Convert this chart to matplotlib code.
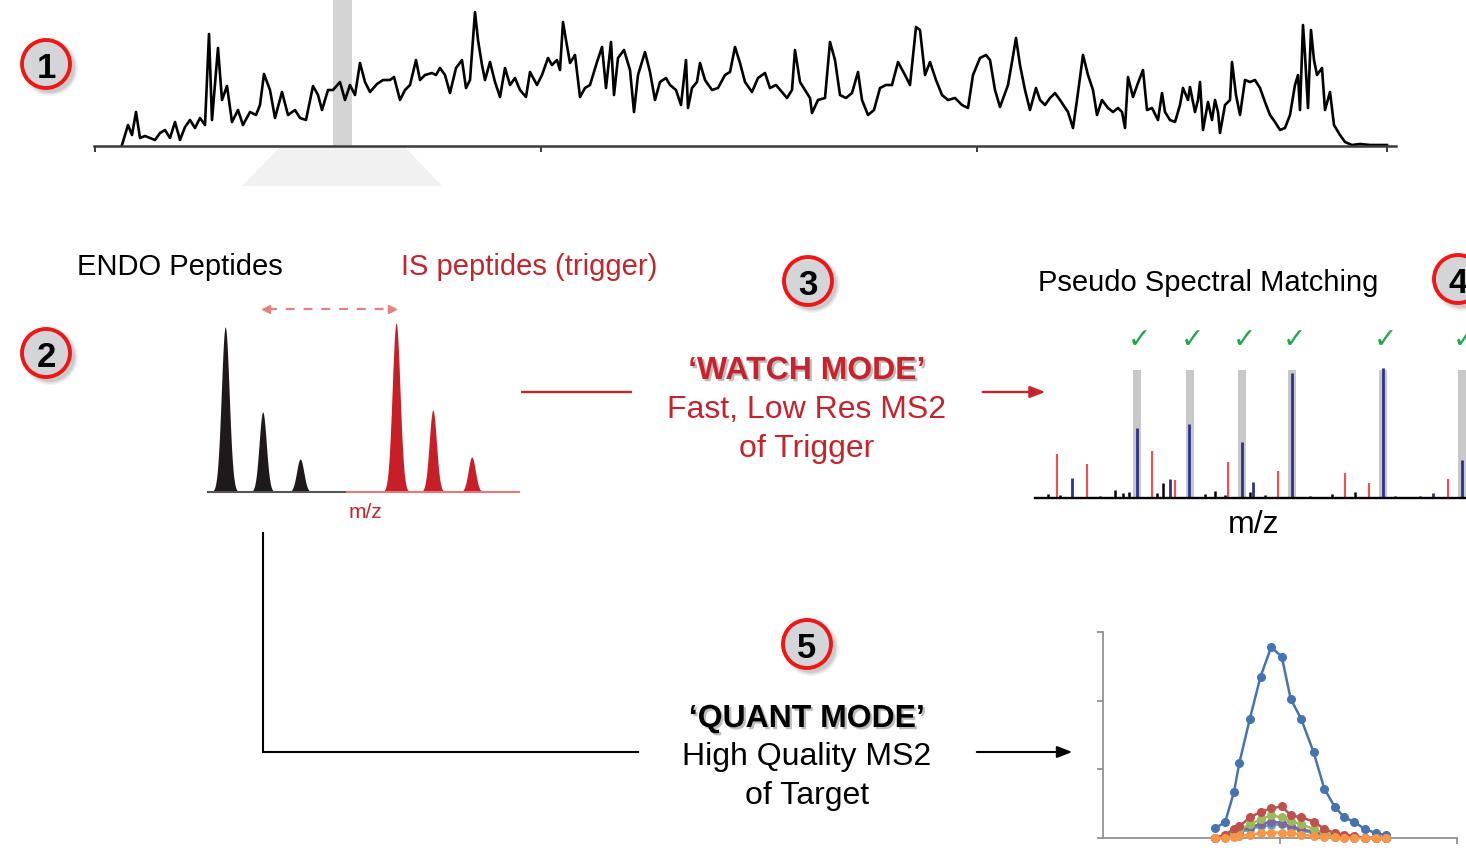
import matplotlib
matplotlib.use('Agg')
import matplotlib.pyplot as plt
import numpy as np
from matplotlib.patches import Circle, Polygon
import matplotlib.patheffects as pe

plt.rcParams['font.family'] = ['Liberation Sans', 'DejaVu Sans']

W, H = 1466, 852

# ---------------- data ----------------
# (1) base-peak chromatogram: scan number vs intensity
chrom_scan = [122,128,132,136,140,145,150,155,160,165,170,175,180,185,190,195,200,205,209,212,
              218,222,227,232,238,243,250,256,260,264,270,275,282,288,295,300,306,313,318,322,
              328,333,340,345,350,355,360,365,370,377,383,390,394,400,405,410,416,420,425,432,
              436,440,445,450,456,462,466,470,475,478,482,485,490,495,500,
              505,510,515,520,526,530,537,542,548,552,557,560,563,566,570,575,580,585,590,597,
              602,606,611,614,618,624,630,634,638,645,650,655,660,666,670,676,681,686,688,692,
              697,700,705,712,718,725,730,735,740,745,752,758,765,770,776,782,787,792,795,800,
              805,810,812,818,825,830,835,840,846,852,858,862,868,874,880,886,892,898,905,910,
              916,920,925,930,936,942,948,955,962,968,973,980,986,990,995,1000,
              1008,1012,1016,1020,1025,1030,1036,1040,1045,1050,1055,1060,1068,1073,1077,1083,1088,1093,1097,1102,
              1108,1113,1118,1122,1125,1128,1133,1138,1143,1147,1152,1158,1162,1165,1170,1175,1180,1183,1188,1190,
              1195,1198,1200,1203,1208,1212,1215,1218,1220,1225,1230,1232,1236,1240,1245,1250,1255,1260,1265,1270,
              1275,1280,1285,1290,1295,1298,1300,1303,1305,1308,1311,1314,1317,1322,1325,1330,1334,1340,1345,1352,
              1360,1370,1387]
chrom_int = [1,21,11,34,8,10,8,6,13,16,8,24,6,19,26,18,28,21,112,26,
             98,46,60,24,36,21,34,31,41,72,56,28,54,31,36,28,26,60,51,36,
             56,56,64,46,61,51,83,64,54,62,66,66,69,46,56,61,86,66,71,73,
             71,78,71,53,78,86,58,66,134,106,81,66,84,64,49,
             78,61,68,56,49,74,61,71,88,81,86,76,124,106,83,91,49,58,61,84,
             99,58,104,51,88,96,76,34,71,94,74,46,64,68,61,56,41,86,38,58,
             64,83,66,56,58,71,74,99,83,64,54,68,73,58,61,54,48,56,96,64,
             56,48,33,46,48,104,86,51,48,53,74,46,31,36,58,61,61,84,71,61,
             119,116,71,84,66,51,46,48,41,38,71,88,91,86,56,39,
             61,84,108,81,56,36,58,46,41,48,53,46,34,18,46,91,71,56,31,46,
             38,34,38,34,18,69,49,63,76,36,38,26,53,34,26,24,41,58,46,59,
             34,46,64,16,44,26,46,34,13,41,46,84,51,31,66,64,66,58,44,31,
             24,16,18,31,61,71,36,121,91,38,116,86,71,78,36,54,21,11,4,1,
             2,1,1]
chrom_ticks = [95, 541, 977, 1387]
watch_window = (333, 352)

# (2) isotope envelopes
endo_mz = [600.00, 600.50, 601.00]
endo_int = [165, 80, 33]
is_mz = [602.28, 602.77, 603.29]
is_int = [169, 82, 35]

# (4) pseudo spectrum
match_mz = [455, 587.5, 717.5, 842.5, 1070, 1267.5]
blue_mz = [455, 585, 717.5, 842.5, 1070, 1267.5, 292.5, 537.5, 745, 1195]
blue_int = [70, 74, 56, 125, 130, 38, 20, 19, 16, 5]
red_mz = [255, 330, 492.5, 550, 682.5, 807.5, 975, 1035, 1232.5]
red_int = [44, 34, 47, 18, 36, 27, 25, 15, 19]
noise_mz = [232.5, 262.5, 362.5, 400, 420, 435, 505, 520, 625, 650, 675, 737.5, 775, 887.5, 942.5, 1000, 1100, 1162.5]
noise_int = [4, 3, 2, 8, 5, 6, 5, 15, 4, 7, 3, 6, 3, 2, 4, 6, 2, 2]

# (5) quant transitions (XIC)
quant_t = [0.63,0.69,0.74,0.77,0.83,0.89,0.95,1.01,1.06,1.12,1.19,1.25,1.31,1.36,1.42,1.48,1.54,1.60]
quant_series = {
    'T1': [0.14,0.23,0.67,1.09,1.74,2.35,2.78,2.64,2.03,1.73,1.25,0.72,0.45,0.31,0.23,0.13,0.07,0.04],
    'T2': [0.00,0.05,0.13,0.17,0.30,0.38,0.43,0.46,0.33,0.30,0.24,0.13,0.07,0.05,0.03,0.00,0.00,0.00],
    'T3': [0.00,0.03,0.08,0.12,0.20,0.27,0.33,0.30,0.25,0.20,0.13,0.07,0.04,0.03,0.01,0.00,0.00,0.00],
    'T4': [0.00,0.02,0.06,0.10,0.16,0.20,0.24,0.22,0.17,0.13,0.09,0.05,0.03,0.02,0.01,0.00,0.00,0.00],
    'T5': [0.00,0.02,0.05,0.08,0.13,0.17,0.19,0.20,0.15,0.11,0.07,0.04,0.02,0.01,0.00,0.00,0.00,0.00],
    'T6': [0.00,0.00,0.01,0.03,0.05,0.07,0.08,0.08,0.07,0.05,0.03,0.02,0.01,0.00,0.00,0.00,0.00,0.00],
}
quant_colors = {'T1': '#4674b3', 'T2': '#c0504d', 'T3': '#9bbb59', 'T4': '#8064a2',
                'T5': '#4bacc6', 'T6': '#f79646'}

RED = '#c8232c'

# ---------------- figure ----------------
fig = plt.figure(figsize=(W / 100, H / 100), dpi=100)


def px_axes(x0, y0, x1, y1):
    ax = fig.add_axes([x0 / W, 1 - y1 / H, (x1 - x0) / W, (y1 - y0) / H])
    ax.patch.set_alpha(0)
    return ax


ov = fig.add_axes([0, 0, 1, 1])
ov.set_xlim(0, W)
ov.set_ylim(H, 0)
ov.axis('off')

# light "zoom" trapezoid below the chromatogram window
ov.add_patch(Polygon([(280, 147), (405, 147), (442, 186), (242, 186)],
                     closed=True, facecolor='#f1f1f1', edgecolor='none', zorder=0))

# ---- (1) chromatogram ----
ax1 = px_axes(94, 0, 1396, 146)
ax1.set_xlim(94, 1396)
ax1.set_ylim(0, 146)
ax1.axvspan(*watch_window, color='#d4d4d4', lw=0, zorder=0)
ax1.plot(chrom_scan, chrom_int, color='black', lw=1.9, zorder=2)
for s in ['top', 'right', 'left']:
    ax1.spines[s].set_visible(False)
ax1.spines['bottom'].set_color('#3a3a3a')
ax1.spines['bottom'].set_linewidth(1.8)
ax1.set_xticks(chrom_ticks)
ax1.set_xticklabels([])
ax1.set_yticks([])
ax1.tick_params(axis='x', direction='out', length=4, width=1.4, color='#3a3a3a')

# ---- (2) isotope envelopes ----
ax2 = px_axes(208, 300, 519, 492)
ax2.set_xlim(599.77, 603.92)
ax2.set_ylim(0, 192)
ax2.axis('off')
grid = np.linspace(599.77, 603.92, 2000)
for mzs, ints, col in [(endo_mz, endo_int, '#1e1a1b'), (is_mz, is_int, '#c81e28')]:
    for c, h in zip(mzs, ints):
        sig = 0.052 if h > 100 else 0.048
        prof = h * np.exp(-0.5 * ((grid - c) / sig) ** 2)
        ax2.fill_between(grid, 0, prof, where=prof > 0.3, color=col, lw=0)
split = (347 - 208) / (519 - 208)
ax2.axhline(0, xmin=0, xmax=split, color='#555555', lw=1.5, clip_on=False)
ax2.axhline(0, xmin=split, xmax=1, color='#e8777a', lw=1.5, clip_on=False)

# ---- (4) pseudo spectrum ----
ax3 = px_axes(1035, 360, 1466, 498)
ax3.set_xlim(200, 1277.5)
ax3.set_ylim(0, 138)
ax3.axis('off')
ax3.bar(match_mz, 128, width=20, color='#c8c8c8', lw=0, zorder=0)
ax3.vlines(noise_mz, 0, noise_int, color='black', lw=1.8, zorder=2)
ax3.vlines(red_mz, 0, red_int, color='#ff4a4a', lw=1.5, zorder=2)
ax3.vlines(blue_mz, 0, blue_int, color='#2e3192', lw=2.0, zorder=3)
ax3.axhline(0, color='black', lw=1.7, clip_on=False, zorder=4)
for m in match_mz:
    ax3.text(m + 5, 158, '\u2713', color='#1ea84a', fontsize=20, ha='center', va='center',
             family='DejaVu Sans', fontweight='bold', clip_on=False)

# ---- (5) quant XIC ----
ax4 = px_axes(1103, 632, 1457, 838)
ax4.set_xlim(0, 2)
ax4.set_ylim(0, 3)
for s in ['top', 'right']:
    ax4.spines[s].set_visible(False)
for s in ['left', 'bottom']:
    ax4.spines[s].set_color('#8a8a8a')
    ax4.spines[s].set_linewidth(1.2)
ax4.set_xticks([1, 2])
ax4.set_yticks([0, 1, 2, 3])
ax4.set_xticklabels([])
ax4.set_yticklabels([])
ax4.tick_params(direction='out', length=4, width=1.2, color='#8a8a8a')
for key in ['T1', 'T5', 'T4', 'T3', 'T2', 'T6']:
    ax4.plot(quant_t, quant_series[key], color=quant_colors[key], lw=1.8,
             marker='o', markersize=5.5, clip_on=False, zorder=3)

# ---- badges ----
def badge(cx, cy, label):
    for r, a in [(28, 0.05), (26.5, 0.07), (25, 0.09)]:
        ov.add_patch(Circle((cx + 4, cy + 4), r, color='black', alpha=a, lw=0, zorder=5))
    ov.add_patch(Circle((cx, cy), 24, facecolor='#d4d5d9', edgecolor='#f01616', lw=2.8, zorder=6))
    ov.text(cx, cy + 1, label, ha='center', va='center_baseline', fontsize=25,
            fontweight='bold', color='black', zorder=7)

badge(46, 64, '1')
badge(46, 353, '2')
badge(808, 281, '3')
badge(1458, 279, '4')
badge(807, 644, '5')

# ---- labels ----
ov.text(77, 267, 'ENDO Peptides', fontsize=21, ha='left', va='center', color='black')
ov.text(401, 267, 'IS peptides (trigger)', fontsize=21, ha='left', va='center', color=RED)
ov.text(1038, 283, 'Pseudo Spectral Matching', fontsize=21, ha='left', va='center', color='black')
ov.text(365, 512, 'm/z', fontsize=15, ha='center', va='center', color=RED)
ov.text(1254, 525, 'm/z', fontsize=23, ha='center', va='center', color='black')

shadow = [pe.withSimplePatchShadow(offset=(1.6, -1.6), shadow_rgbFace='#888888', alpha=0.55)]
ov.text(807, 371, '\u2018WATCH MODE\u2019', fontsize=23, fontweight='bold', ha='center',
        va='center', color=RED, path_effects=shadow)
ov.text(807, 410, 'Fast, Low Res MS2', fontsize=23, ha='center', va='center', color=RED)
ov.text(807, 449, 'of Trigger', fontsize=23, ha='center', va='center', color=RED)

ov.text(807, 719, '\u2018QUANT MODE\u2019', fontsize=23, fontweight='bold', ha='center',
        va='center', color='black', path_effects=shadow)
ov.text(807, 757, 'High Quality MS2', fontsize=23, ha='center', va='center', color='black')
ov.text(807, 796, 'of Target', fontsize=23, ha='center', va='center', color='black')

# ---- connectors ----
ov.plot([521, 632], [392, 392], color=RED, lw=1.7, solid_capstyle='butt')
ov.annotate('', xy=(1048, 392), xytext=(980, 392),
            arrowprops=dict(arrowstyle='-|>,head_length=0.9,head_width=0.35', color=RED, lw=1.7))
ov.plot([263, 263, 638], [533, 752, 752], color='black', lw=1.5, solid_joinstyle='miter')
ov.annotate('', xy=(1075, 752), xytext=(974, 752),
            arrowprops=dict(arrowstyle='-|>,head_length=0.9,head_width=0.35', color='black', lw=1.5))
# dashed mass-shift arrow
ov.plot([268, 390], [309, 309], color='#e88080', lw=1.6, dashes=(4, 4))
ov.plot([266], [309], marker='<', color='#e88080', markersize=6)
ov.plot([392], [309], marker='>', color='#e88080', markersize=6)

fig.savefig('out.png', dpi=100)
